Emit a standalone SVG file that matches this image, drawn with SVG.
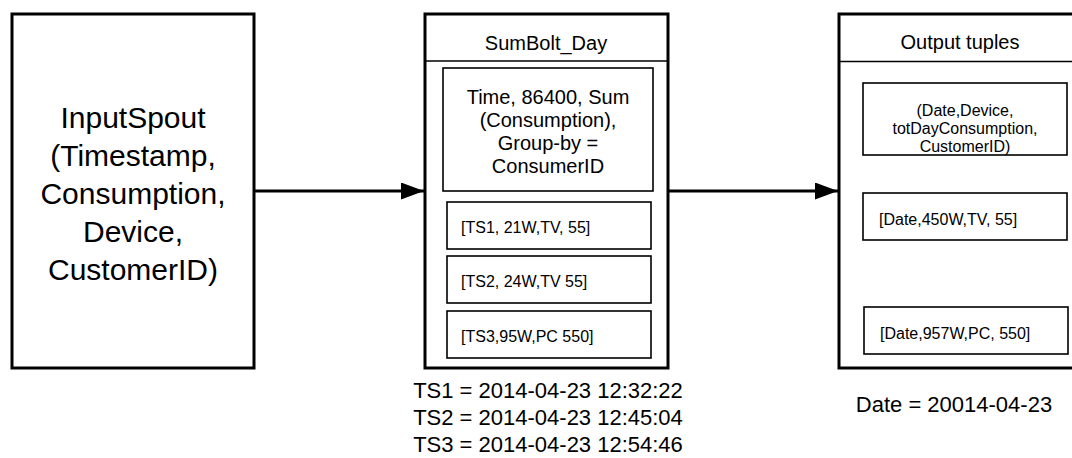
<svg xmlns="http://www.w3.org/2000/svg" width="1072" height="458" viewBox="0 0 1072 458">
<style>
  text { font-family: "Liberation Sans", Arial, sans-serif; fill: #000; }
  .outer { fill: #fff; stroke: #000; stroke-width: 3; }
  .inner { fill: #fff; stroke: #000; stroke-width: 1.6; }
  .hdr { stroke: #000; stroke-width: 1.6; fill: none; }
  .big { font-size: 30px; text-anchor: middle; }
  .title { font-size: 20px; text-anchor: middle; }
  .mid { font-size: 20px; text-anchor: middle; }
  .small { font-size: 16px; }
  .smallc { font-size: 16px; text-anchor: middle; }
  .note { font-size: 22px; text-anchor: middle; }
  .conn { stroke: #000; stroke-width: 3; fill: none; }
</style>
<defs>
  <marker id="arrow" markerUnits="userSpaceOnUse" markerWidth="24" markerHeight="18" refX="23" refY="8.5" orient="auto">
    <polygon points="0,0 23,8.5 0,17" fill="#000"/>
  </marker>
</defs>
<rect width="1072" height="458" fill="#fff"/>

<g id="connectors">
  <line class="conn" x1="255" y1="191" x2="424" y2="191" marker-end="url(#arrow)"/>
  <line class="conn" x1="668" y1="191" x2="838" y2="191" marker-end="url(#arrow)"/>
</g>

<g id="inputSpout">
  <rect class="outer" x="12" y="14" width="242" height="354"/>
  <text class="big" x="133" y="128">InputSpout</text>
  <text class="big" x="133" y="166">(Timestamp,</text>
  <text class="big" x="133" y="204">Consumption,</text>
  <text class="big" x="133" y="242">Device,</text>
  <text class="big" x="133" y="280">CustomerID)</text>
</g>

<g id="sumBoltDay">
  <rect class="outer" x="425" y="14" width="243" height="354"/>
  <line class="hdr" x1="425" y1="61" x2="668" y2="61"/>
  <text class="title" x="546" y="50">SumBolt_Day</text>
  <rect class="inner" x="443" y="68" width="210" height="123"/>
  <text class="mid" x="548" y="104">Time, 86400, Sum</text>
  <text class="mid" x="548" y="127">(Consumption),</text>
  <text class="mid" x="548" y="150">Group-by =</text>
  <text class="mid" x="548" y="173">ConsumerID</text>
  <rect class="inner" x="447" y="202" width="204" height="47"/>
  <text class="small" x="461" y="233">[TS1, 21W,TV, 55]</text>
  <rect class="inner" x="447" y="256" width="204" height="47"/>
  <text class="small" x="461" y="287">[TS2, 24W,TV 55]</text>
  <rect class="inner" x="447" y="311" width="204" height="47"/>
  <text class="small" x="461" y="342">[TS3,95W,PC 550]</text>
</g>

<g id="timestamps">
  <text class="note" x="548" y="398">TS1 = 2014-04-23 12:32:22</text>
  <text class="note" x="548" y="425">TS2 = 2014-04-23 12:45:04</text>
  <text class="note" x="548" y="452">TS3 = 2014-04-23 12:54:46</text>
</g>

<g id="outputTuples">
  <rect class="outer" x="839" y="14" width="240" height="354"/>
  <line class="hdr" x1="839" y1="61.5" x2="1072" y2="61.5"/>
  <text class="title" x="960" y="49">Output tuples</text>
  <rect class="inner" x="863" y="83" width="204" height="72"/>
  <text class="smallc" x="965" y="116">(Date,Device,</text>
  <text class="smallc" x="965" y="134">totDayConsumption,</text>
  <text class="smallc" x="965" y="152">CustomerID)</text>
  <rect class="inner" x="863" y="193" width="204" height="47"/>
  <text class="small" x="879" y="225">[Date,450W,TV, 55]</text>
  <rect class="inner" x="864" y="307" width="204" height="47"/>
  <text class="small" x="880" y="339">[Date,957W,PC, 550]</text>
</g>

<g id="dateNote">
  <text class="note" x="954" y="412">Date = 20014-04-23</text>
</g>
</svg>
